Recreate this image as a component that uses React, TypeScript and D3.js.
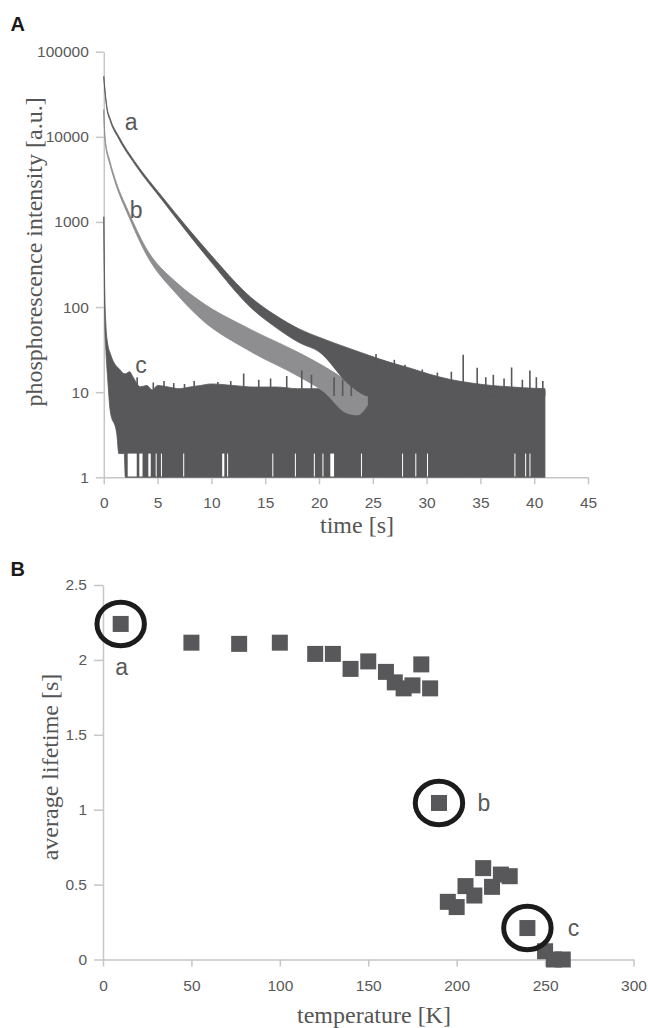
import React, { useEffect, useRef } from 'react'
import * as d3 from 'd3'

// A: phosphorescence decay. Each noisy trace is kept as the top and bottom edge of its band.
const timeA = [0, 0.1, 0.27, 0.6, 1.35, 2.9, 5.4, 7.9, 10, 13.7, 16, 18.2, 20, 22.9, 24.7, 26.6, 28.5, 30.3, 32.2, 34, 36, 38, 40, 41]
const aHigh = [51300, 36700, 23400, 16300, 10350, 5070, 1995, 820, 403, 129, 79.4, 55, 44.2, 32.4, 26.9, 22.4, 19.1, 16.2, 14.1, 12.9, 12, 11.5, 11.1, 11]
const aLow = [49000, 34300, 21900, 15300, 9660, 4730, 1820, 714, 335, 97.7, 57.5, 38, 29.9, 12, 9, 9, 9, 9, 9, 9, 9, 9, 9, 9]

const timeB = [0, 0.12, 0.58, 1.04, 2.28, 3.83, 6.93, 8.95, 13.6, 18.2, 20.5, 22.5, 23.6, 24.5]
const bHigh = [20900, 9660, 5130, 3240, 1334, 519, 186, 117.5, 55, 28.8, 20, 13.8, 11, 9]
const bLow = [19050, 8810, 4680, 2950, 1189, 442, 135, 74.1, 30.2, 15.1, 10, 5.75, 5.4, 7]

const timeC = [0, 0.04, 0.1, 0.2, 0.35, 0.6, 1.2, 1.4, 1.8, 1.9, 2.0, 2.4, 2.7, 3.4, 4.0, 4.5, 5, 6, 7, 8, 9, 10, 12, 14, 16, 18, 20, 22, 24, 26, 28, 30, 32, 34, 36, 38, 40, 41]
const cHigh = [1150, 420, 130, 60, 38, 28.6, 20, 19, 16.7, 16.5, 16.5, 17.4, 15.2, 11.6, 12, 10.6, 12, 11.5, 11, 11.5, 12, 12.5, 12, 11.5, 11.5, 11, 11, 10.8, 10.8, 10.5, 10.5, 10.5, 10.5, 10.5, 10.5, 10.5, 10.5, 10.5]
const cLow = [1150, 250, 60, 30, 15, 6, 3.3, 1.9, 1.9, 1.9, 1, 1, 1, 1, 1, 1, 1, 1, 1, 1, 1, 1, 1, 1, 1, 1, 1, 1, 1, 1, 1, 1, 1, 1, 1, 1, 1, 1]

// noise spikes above the band: [time s, intensity]
const spikes = [
  [3.1, 15], [4.6, 13], [5.6, 13.5], [6.5, 12.8], [7.5, 12.5], [8.4, 13.5], [10.6, 13.2], [11.8, 13.5],
  [13.0, 16.6], [14.4, 14], [15.5, 14.5], [17.0, 15.5], [18.4, 18], [19.3, 16], [21.4, 15], [22.2, 14],
  [23.0, 13], [25.3, 28], [27.0, 24], [28.0, 21], [29.6, 18.5], [31.0, 17], [32.3, 17.4], [33.4, 27.5],
  [34.7, 19.4], [35.5, 15], [36.2, 16], [37.2, 14.5], [37.9, 19.5], [38.9, 14], [39.6, 18], [40.2, 15], [40.8, 13.5]
]
// spans where the trace never falls to 1: [from s, to s]
const gaps = [
  [2.22, 3.06], [3.3, 3.6], [4.14, 4.36], [4.82, 4.9], [5.31, 5.39], [7.38, 7.46], [11.0, 11.2], [11.46, 11.54],
  [15.66, 15.74], [17.76, 17.84], [19.52, 19.6], [20.32, 20.4], [21.05, 21.4], [23.9, 23.98], [27.72, 27.8],
  [28.95, 29.03], [30.04, 30.12], [38.16, 38.24], [39.16, 39.24], [39.56, 39.64]
]
const intensityTicks = [1, 10, 100, 1000, 10000, 100000]
const timeTicks = [0, 5, 10, 15, 20, 25, 30, 35, 40, 45]

// B: average lifetime vs temperature
const temperature = [10, 50, 77, 100, 120, 130, 140, 150, 160, 165, 170, 175, 180, 185, 190, 195, 200, 205, 210, 215, 220, 225, 230, 240, 250, 255, 260]
const lifetime = [2.24, 2.115, 2.107, 2.115, 2.04, 2.04, 1.94, 1.99, 1.92, 1.85, 1.81, 1.83, 1.97, 1.81, 1.045, 0.385, 0.35, 0.49, 0.427, 0.61, 0.485, 0.567, 0.556, 0.21, 0.055, 0, 0]
const markedTemps = [10, 190, 240]
const markedNames = ['a', 'b', 'c']
const lifetimeTicks = [0, 0.5, 1, 1.5, 2, 2.5]
const tempTicks = [0, 50, 100, 150, 200, 250, 300]

const DARK = '#58585a'
const LIGHT = '#8e8e90'
const AXIS = '#c6c6c6'
const TXT = '#595959'
const SANS = '"Liberation Sans", Arial, sans-serif'
const SERIF = '"Liberation Serif", "Times New Roman", serif'

function styleAxis(g) {
  g.attr('font-family', null).attr('font-size', null)
  g.select('.domain').attr('stroke', AXIS).attr('stroke-width', 1.5)
  g.selectAll('.tick line').attr('stroke', AXIS).attr('stroke-width', 1.5)
  g.selectAll('.tick text').attr('fill', TXT).style('font-family', SANS).style('font-size', '15.5px')
}

function drawDecay(svg) {
  const x = d3.scaleLinear().domain([0, 45]).range([103.8, 588])
  const y = d3.scaleLog().domain([1, 100000]).range([477.3, 51.7])
  const g = svg.append('g')

  const band = (t, hi, lo) => d3.area()
    .x((_, i) => x(t[i]))
    .y0((_, i) => y(lo[i]))
    .y1((_, i) => y(hi[i]))
    .curve(d3.curveMonotoneX)(t)

  // axes under the traces, the noise covers the base line
  g.append('g').attr('transform', `translate(0,${y(1)})`)
    .call(d3.axisBottom(x).tickValues(timeTicks).tickSize(7).tickSizeOuter(0).tickPadding(13))
    .call(styleAxis)
  g.append('g').attr('transform', `translate(${x(0)},0)`)
    .call(d3.axisLeft(y).tickValues(intensityTicks).tickFormat(d3.format('d')).tickSize(8).tickSizeOuter(0).tickPadding(7))
    .call(styleAxis)

  g.append('path').attr('d', band(timeC, cHigh, cLow)).attr('fill', DARK).attr('stroke', DARK).attr('stroke-width', 0.8)
  g.append('path').attr('d', band(timeB, bHigh, bLow)).attr('fill', LIGHT).attr('stroke', LIGHT).attr('stroke-width', 0.8)
  g.append('path').attr('d', band(timeA, aHigh, aLow)).attr('fill', DARK).attr('stroke', DARK).attr('stroke-width', 0.8)

  g.selectAll('.spike').data(spikes).enter().append('line')
    .attr('x1', d => x(d[0])).attr('x2', d => x(d[0]))
    .attr('y1', d => y(d[1])).attr('y2', y(9))
    .attr('stroke', DARK).attr('stroke-width', 1.6)

  g.selectAll('.gap').data(gaps).enter().append('rect')
    .attr('x', d => x(d[0]))
    .attr('width', d => Math.max(1, x(d[1]) - x(d[0])))
    .attr('y', y(1.9)).attr('height', y(1) - y(1.9) - 0.8)
    .attr('fill', '#fff')

  const names = [['a', 2.55, 15100], ['b', 3.0, 1380], ['c', 3.45, 21]]
  g.selectAll('.name').data(names).enter().append('text')
    .attr('x', d => x(d[1])).attr('y', d => y(d[2]))
    .attr('dy', '0.35em').attr('text-anchor', 'middle')
    .attr('fill', TXT).style('font-family', SANS).style('font-size', '23px')
    .text(d => d[0])

  g.append('text').attr('x', 357).attr('y', 532.7).attr('text-anchor', 'middle')
    .attr('fill', '#555').style('font-family', SERIF).style('font-size', '24px').text('time [s]')
  g.append('text').attr('transform', 'translate(42,252) rotate(-90)').attr('text-anchor', 'middle')
    .attr('fill', '#555').style('font-family', SERIF).style('font-size', '24px').text('phosphorescence intensity [a.u.]')
  g.append('text').attr('x', 10.5).attr('y', 30.5)
    .attr('fill', '#1a1a1a').style('font-family', SANS).style('font-size', '20px').style('font-weight', 'bold').text('A')
}

function drawLifetime(svg) {
  const x = d3.scaleLinear().domain([0, 300]).range([103, 633.5])
  const y = d3.scaleLinear().domain([0, 2.5]).range([959.5, 585])
  const g = svg.append('g')

  g.append('g').attr('transform', `translate(0,${y(0)})`)
    .call(d3.axisBottom(x).tickValues(tempTicks).tickSize(7).tickSizeOuter(0).tickPadding(13.4))
    .call(styleAxis)
  g.append('g').attr('transform', `translate(${x(0)},0)`)
    .call(d3.axisLeft(y).tickValues(lifetimeTicks).tickFormat(d => String(d)).tickSize(9).tickSizeOuter(0).tickPadding(7))
    .call(styleAxis)

  const pts = temperature.map((t, i) => ({ t, v: lifetime[i] }))
  g.selectAll('.pt').data(pts).enter().append('rect')
    .attr('x', d => x(d.t) - 8).attr('y', d => y(d.v) - 8)
    .attr('width', 16).attr('height', 16)
    .attr('fill', DARK)

  const marks = markedTemps.map((t, i) => ({ t, v: lifetime[temperature.indexOf(t)], name: markedNames[i] }))
  g.selectAll('.ring').data(marks).enter().append('ellipse')
    .attr('cx', d => x(d.t)).attr('cy', d => y(d.v))
    .attr('rx', 23.7).attr('ry', 21.8)
    .attr('fill', 'none').attr('stroke', '#1c1c1c').attr('stroke-width', 5)
  const offsets = { a: [1, 43], b: [45, 0], c: [46, 0] }
  g.selectAll('.mname').data(marks).enter().append('text')
    .attr('x', d => x(d.t) + offsets[d.name][0]).attr('y', d => y(d.v) + offsets[d.name][1])
    .attr('dy', '0.35em').attr('text-anchor', 'middle')
    .attr('fill', TXT).style('font-family', SANS).style('font-size', '23px')
    .text(d => d.name)

  g.append('text').attr('x', 374).attr('y', 1023).attr('text-anchor', 'middle')
    .attr('fill', '#555').style('font-family', SERIF).style('font-size', '24px').text('temperature [K]')
  g.append('text').attr('transform', 'translate(58,767) rotate(-90)').attr('text-anchor', 'middle')
    .attr('fill', '#555').style('font-family', SERIF).style('font-size', '24px').text('average lifetime [s]')
  g.append('text').attr('x', 10.5).attr('y', 576)
    .attr('fill', '#1a1a1a').style('font-family', SANS).style('font-size', '20px').style('font-weight', 'bold').text('B')
}

export default function App() {
  const ref = useRef(null)

  useEffect(() => {
    const svg = d3.select(ref.current)
    svg.selectAll('*').remove()
    drawDecay(svg)
    drawLifetime(svg)
  }, [])

  return (
    <svg ref={ref} width={648} height={1028}
      style={{ position: 'absolute', left: 0, top: 0, background: '#fff' }} />
  )
}
